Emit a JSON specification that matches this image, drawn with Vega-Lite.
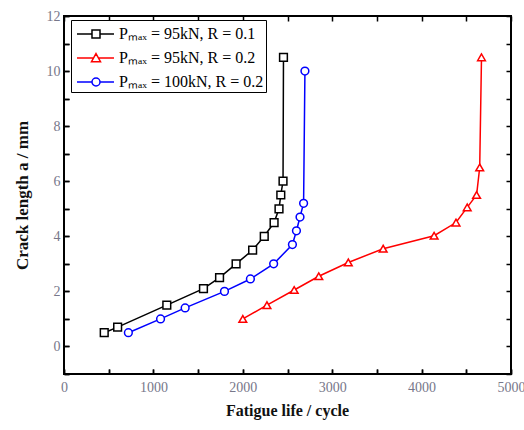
{
  "$schema": "https://vega.github.io/schema/vega-lite/v6.json",
  "width": 447,
  "height": 358,
  "autosize": {"type": "none"},
  "padding": {"left": 64, "top": 16, "right": 13, "bottom": 56},
  "background": "white",
  "config": {
    "view": {"stroke": "black", "strokeWidth": 2},
    "font": "Liberation Serif",
    "axis": {"grid": false, "domain": false, "offset": -5, "labelFont": "Liberation Serif", "labelColor": "#77778a", "labelFontSize": 14, "titleFont": "Liberation Serif", "titleFontWeight": "bold", "titleColor": "#111111", "titleFontSize": 16}
  },
  "data": {
    "values": [
      {"s": "Pₘₐₓ = 95kN, R = 0.1", "x": 450, "y": 0.5},
      {"s": "Pₘₐₓ = 95kN, R = 0.1", "x": 600, "y": 0.7},
      {"s": "Pₘₐₓ = 95kN, R = 0.1", "x": 1150, "y": 1.5},
      {"s": "Pₘₐₓ = 95kN, R = 0.1", "x": 1560, "y": 2.1},
      {"s": "Pₘₐₓ = 95kN, R = 0.1", "x": 1740, "y": 2.5},
      {"s": "Pₘₐₓ = 95kN, R = 0.1", "x": 1925, "y": 3.0},
      {"s": "Pₘₐₓ = 95kN, R = 0.1", "x": 2110, "y": 3.5},
      {"s": "Pₘₐₓ = 95kN, R = 0.1", "x": 2240, "y": 4.0},
      {"s": "Pₘₐₓ = 95kN, R = 0.1", "x": 2350, "y": 4.5},
      {"s": "Pₘₐₓ = 95kN, R = 0.1", "x": 2405, "y": 5.0},
      {"s": "Pₘₐₓ = 95kN, R = 0.1", "x": 2425, "y": 5.5},
      {"s": "Pₘₐₓ = 95kN, R = 0.1", "x": 2450, "y": 6.0},
      {"s": "Pₘₐₓ = 95kN, R = 0.1", "x": 2455, "y": 10.5},
      {"s": "Pₘₐₓ = 95kN, R = 0.2", "x": 2000, "y": 1.0},
      {"s": "Pₘₐₓ = 95kN, R = 0.2", "x": 2270, "y": 1.5},
      {"s": "Pₘₐₓ = 95kN, R = 0.2", "x": 2575, "y": 2.05},
      {"s": "Pₘₐₓ = 95kN, R = 0.2", "x": 2850, "y": 2.55},
      {"s": "Pₘₐₓ = 95kN, R = 0.2", "x": 3180, "y": 3.05},
      {"s": "Pₘₐₓ = 95kN, R = 0.2", "x": 3570, "y": 3.55},
      {"s": "Pₘₐₓ = 95kN, R = 0.2", "x": 4140, "y": 4.02},
      {"s": "Pₘₐₓ = 95kN, R = 0.2", "x": 4385, "y": 4.5},
      {"s": "Pₘₐₓ = 95kN, R = 0.2", "x": 4510, "y": 5.05},
      {"s": "Pₘₐₓ = 95kN, R = 0.2", "x": 4615, "y": 5.5},
      {"s": "Pₘₐₓ = 95kN, R = 0.2", "x": 4650, "y": 6.5},
      {"s": "Pₘₐₓ = 95kN, R = 0.2", "x": 4670, "y": 10.5},
      {"s": "Pₘₐₓ = 100kN, R = 0.2", "x": 720, "y": 0.5},
      {"s": "Pₘₐₓ = 100kN, R = 0.2", "x": 1080, "y": 1.0},
      {"s": "Pₘₐₓ = 100kN, R = 0.2", "x": 1355, "y": 1.4},
      {"s": "Pₘₐₓ = 100kN, R = 0.2", "x": 1795, "y": 2.0},
      {"s": "Pₘₐₓ = 100kN, R = 0.2", "x": 2085, "y": 2.45},
      {"s": "Pₘₐₓ = 100kN, R = 0.2", "x": 2345, "y": 3.0},
      {"s": "Pₘₐₓ = 100kN, R = 0.2", "x": 2555, "y": 3.7},
      {"s": "Pₘₐₓ = 100kN, R = 0.2", "x": 2600, "y": 4.2},
      {"s": "Pₘₐₓ = 100kN, R = 0.2", "x": 2640, "y": 4.7},
      {"s": "Pₘₐₓ = 100kN, R = 0.2", "x": 2680, "y": 5.2},
      {"s": "Pₘₐₓ = 100kN, R = 0.2", "x": 2695, "y": 10.0}
    ]
  },
  "resolve": {"axis": {"x": "independent", "y": "independent"}, "scale": {"shape": "independent", "stroke": "independent"}},
  "layer": [
    {
      "mark": {"type": "line", "strokeWidth": 1.5},
      "encoding": {
        "x": {"field": "x", "type": "quantitative", "scale": {"domain": [0, 5000], "nice": false, "zero": false},
          "axis": {"orient": "bottom", "values": [0, 500, 1000, 1500, 2000, 2500, 3000, 3500, 4000, 4500, 5000], "format": "d",
            "ticks": true, "tickSize": 5, "tickColor": "#000000", "tickWidth": 1.5, "tickOpacity": 1,
            "labelExpr": "datum.value % 1000 === 0 ? datum.label : ''",
            "labelPadding": 6, "labelFlush": false, "labelOverlap": false,
            "title": "Fatigue life / cycle", "titleX": 223, "titleY": 41, "titleBaseline": "middle"}},
        "y": {"field": "y", "type": "quantitative", "scale": {"domain": [-1, 12], "nice": false, "zero": false},
          "axis": {"orient": "left", "values": [-1, 0, 1, 2, 3, 4, 5, 6, 7, 8, 9, 10, 11, 12], "format": "d",
            "ticks": true, "tickSize": 5, "tickColor": "#000000", "tickWidth": 1.5, "tickOpacity": 1,
            "labelExpr": "datum.value % 2 === 0 ? datum.label : ''",
            "labelPadding": 4, "labelFlush": false, "labelOverlap": false,
            "title": "Crack length a / mm", "titleX": -47, "titleY": 179, "titleAngle": -90, "titleBaseline": "middle", "titleAlign": "center", "titleFontSize": 17}},
        "color": {"field": "s", "type": "nominal",
          "scale": {"domain": ["Pₘₐₓ = 95kN, R = 0.1", "Pₘₐₓ = 95kN, R = 0.2", "Pₘₐₓ = 100kN, R = 0.2"], "range": ["#000000", "#ff0000", "#0000ff"]},
          "legend": null}
      }
    },
    {
      "mark": {"type": "point", "filled": false, "fill": "white", "fillOpacity": 1, "strokeWidth": 1.5, "size": 60, "opacity": 1},
      "encoding": {
        "x": {"field": "x", "type": "quantitative", "scale": {"domain": [0, 5000], "nice": false, "zero": false},
          "axis": {"orient": "top", "offset": 0, "values": [0, 500, 1000, 1500, 2000, 2500, 3000, 3500, 4000, 4500, 5000], "labels": false, "title": null, "ticks": false,
            "grid": true, "gridColor": "#000000", "gridOpacity": 1, "gridWidth": 1.5, "gridDash": [5, 348]}},
        "y": {"field": "y", "type": "quantitative", "scale": {"domain": [-1, 12], "nice": false, "zero": false},
          "axis": {"orient": "right", "offset": 0, "values": [-1, 0, 1, 2, 3, 4, 5, 6, 7, 8, 9, 10, 11, 12], "labels": false, "title": null, "ticks": false,
            "grid": true, "gridColor": "#000000", "gridOpacity": 1, "gridWidth": 1.5, "gridDash": [5, 437]}},
        "stroke": {"field": "s", "type": "nominal",
          "scale": {"domain": ["Pₘₐₓ = 95kN, R = 0.1", "Pₘₐₓ = 95kN, R = 0.2", "Pₘₐₓ = 100kN, R = 0.2"], "range": ["#000000", "#ff0000", "#0000ff"]},
          "legend": null},
        "shape": {"field": "s", "type": "nominal",
          "scale": {"domain": ["Pₘₐₓ = 95kN, R = 0.1", "Pₘₐₓ = 95kN, R = 0.2", "Pₘₐₓ = 100kN, R = 0.2"], "range": ["square", "triangle-up", "circle"]},
          "legend": null}
      }
    },
    {
      "mark": {"type": "point", "filled": false, "strokeWidth": 1.5, "opacity": 0},
      "encoding": {
        "x": {"field": "x", "type": "quantitative", "axis": null},
        "y": {"field": "y", "type": "quantitative", "axis": null},
        "stroke": {"field": "s", "type": "nominal",
          "scale": {"domain": ["Pₘₐₓ = 95kN, R = 0.1", "Pₘₐₓ = 95kN, R = 0.2", "Pₘₐₓ = 100kN, R = 0.2"], "range": ["#000000", "#ff0000", "#0000ff"]},
          "legend": {"title": null, "orient": "none", "legendX": 7, "legendY": 4, "padding": 2, "rowPadding": 4, "symbolSize": 484, "symbolStrokeWidth": 1.5, "symbolOpacity": 1, "symbolStrokeColor": "#000000", "labelOffset": 22, "labelFontSize": 16, "labelColor": "#000000", "labelFont": "Liberation Serif", "labelLimit": 400, "strokeColor": "#000000", "fillColor": "white"}},
        "shape": {"field": "s", "type": "nominal",
          "scale": {"domain": ["Pₘₐₓ = 95kN, R = 0.1", "Pₘₐₓ = 95kN, R = 0.2", "Pₘₐₓ = 100kN, R = 0.2"],
            "range": ["M-0.727,0H0.636M1.364,0H2.636M0.636,-0.364H1.364V0.364H0.636Z", "M-0.727,0H0.775M1.225,0H2.636M1,-0.4L1.41,0.33H0.59Z", "M-0.727,0H0.636M1.364,0H2.636M1.364,0A0.364,0.364 0 1 1 0.636,0A0.364,0.364 0 1 1 1.364,0Z"]},
          "legend": {"title": null, "orient": "none", "legendX": 7, "legendY": 4, "padding": 2, "rowPadding": 4, "symbolSize": 484, "symbolStrokeWidth": 1.5, "symbolOpacity": 1, "symbolStrokeColor": "#000000", "labelOffset": 22, "labelFontSize": 16, "labelColor": "#000000", "labelFont": "Liberation Serif", "labelLimit": 400, "strokeColor": "#000000", "fillColor": "white"}}
      }
    }
  ]
}
